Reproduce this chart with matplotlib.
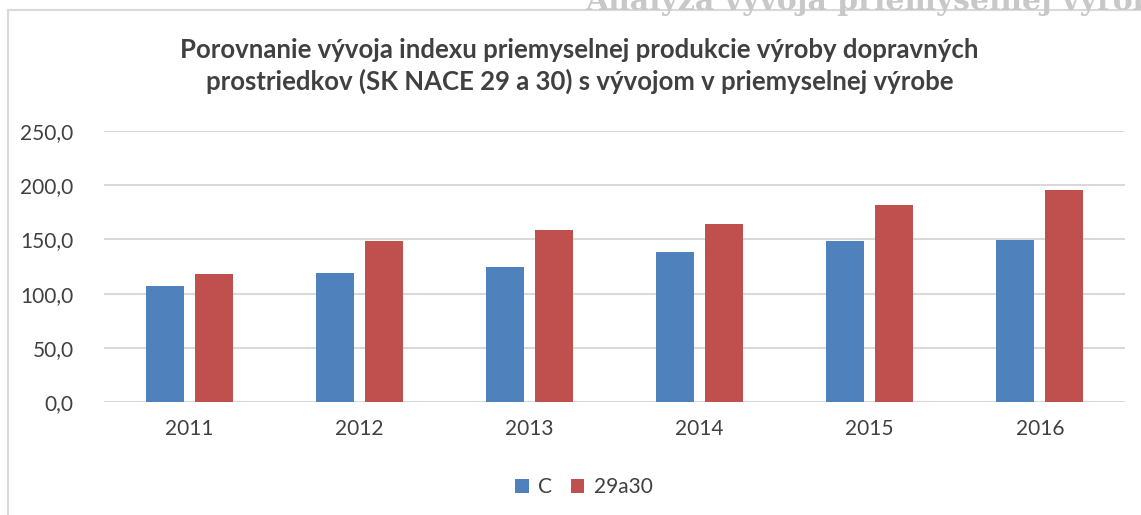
import matplotlib.pyplot as plt
import numpy as np

years = ['2011', '2012', '2013', '2014', '2015', '2016']
c_vals = [107.0, 119.0, 124.8, 138.4, 148.6, 149.2]
v29a30 = [117.8, 148.8, 158.7, 164.0, 181.7, 195.3]
yticks = [0, 50, 100, 150, 200, 250]

plt.rcParams['font.family'] = ['Lato', 'DejaVu Sans']

fig = plt.figure(figsize=(11.41, 5.15), dpi=100)
ax = fig.add_axes([104 / 1141, 1 - 402 / 515, (1125 - 104) / 1141, (402 - 131) / 515])

x = np.arange(len(years))
w = 0.224
ax.bar(x - 0.144, c_vals, w, color='#4F81BD', label='C', zorder=3)
ax.bar(x + 0.144, v29a30, w, color='#C0504D', label='29a30', zorder=3)

ax.set_xlim(-0.5, len(years) - 0.5)
ax.set_ylim(0, 250)
ax.set_yticks(yticks)
ax.set_yticklabels([f'{v:.1f}'.replace('.', ',') for v in yticks], fontsize=15, color='#404040')
ax.set_xticks(x)
ax.set_xticklabels(years, fontsize=15, color='#404040')
ax.tick_params(length=0, pad=22)
ax.tick_params(axis='x', pad=12)
ax.grid(axis='y', color='#d9d9d9', linewidth=1.5, zorder=0)
for s in ax.spines.values():
    s.set_visible(False)

fig.text(0.508, 1 - 66 / 515,
         'Porovnanie vývoja indexu priemyselnej produkcie výroby dopravných\n'
         'prostriedkov (SK NACE 29 a 30) s vývojom v priemyselnej výrobe',
         ha='center', va='center', fontsize=18.5, fontweight='bold', color='#404040',
         linespacing=1.35)

fig.legend(loc='center', bbox_to_anchor=(584 / 1141, 1 - 487 / 515), ncol=2, frameon=False,
           fontsize=15, handlelength=0.65, handleheight=0.65, handletextpad=0.45,
           columnspacing=0.9, labelcolor='#404040')

# chart border and clipped page header
fig.add_artist(plt.Line2D([8 / 1141, 8 / 1141], [0, 1 - 10 / 515], color='#d9d9d9', linewidth=1.5))
fig.add_artist(plt.Line2D([8 / 1141, 1], [1 - 10 / 515, 1 - 10 / 515], color='#d9d9d9', linewidth=1.5))
fig.text(585 / 1141, 1 - 1 / 515, 'Analýza vývoja priemyselnej výroby', ha='left', va='center',
         fontsize=21.5, fontweight='bold', family='DejaVu Serif', color='#c8c8c8')

fig.savefig('out.png', dpi=100)
